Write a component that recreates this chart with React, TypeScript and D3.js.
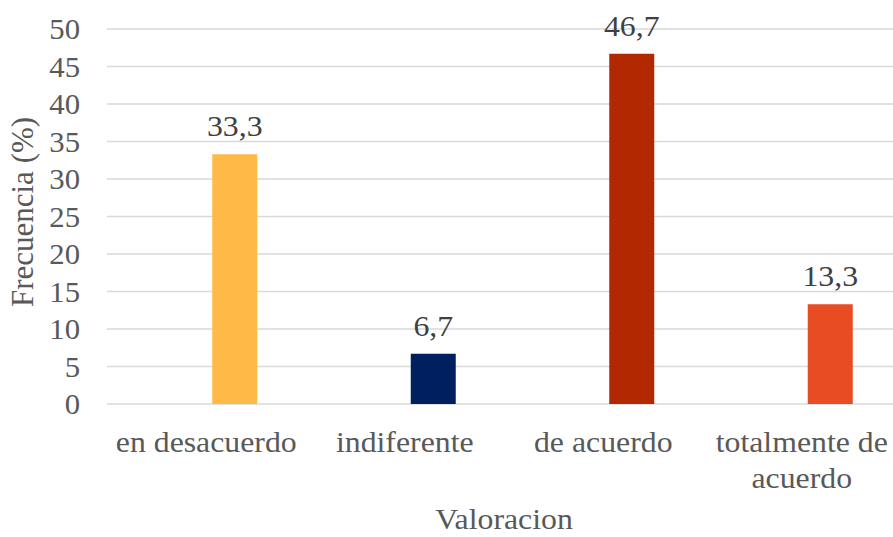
import React from "react";
import * as d3 from "d3";

const categoryKeys = ["en desacuerdo", "indiferente", "de acuerdo", "totalmente de acuerdo"];
const categoryLines: string[][] = [["en desacuerdo"], ["indiferente"], ["de acuerdo"], ["totalmente de", "acuerdo"]];
const values = [33.3, 6.7, 46.7, 13.3];
const valueLabels = ["33,3", "6,7", "46,7", "13,3"];
const colors = ["#FFB946", "#001F5F", "#B22800", "#E84C22"];
const yTicks = [0, 5, 10, 15, 20, 25, 30, 35, 40, 45, 50];

const W = 893;
const H = 537;
const FONT = "Liberation Serif";
const SX = 1.06;

function T(props: { x: number; y: number; size: number; fill: string; anchor: string; children: React.ReactNode }) {
  return (
    <g transform={`translate(${props.x},${props.y}) scale(${SX},1)`}>
      <text
        x={0}
        y={0}
        textAnchor={props.anchor}
        fontFamily={FONT}
        style={{ fontFamily: FONT }}
        fontSize={props.size}
        fill={props.fill}
      >
        {props.children}
      </text>
    </g>
  );
}

export default function App() {
  const y = d3.scaleLinear().domain([0, 50]).range([404, 29]);
  const x = d3.scaleBand<string>().domain(categoryKeys).range([107, 901]);
  const barW = 45;
  const barOffset = 28.5;
  const gridX0 = 107;
  const gridX1 = 893;

  return (
    <svg
      width={W}
      height={H}
      fontFamily={FONT}
      style={{ position: "absolute", left: 0, top: 0, background: "#fff", fontFamily: FONT }}
    >
      {yTicks.map((t) => (
        <g key={t}>
          <line x1={gridX0} x2={gridX1} y1={y(t)} y2={y(t)} stroke="#D9D9D9" strokeWidth={1.5} />
          <T x={80} y={y(t) + 10} size={29} fill="#595959" anchor="end">
            {String(t)}
          </T>
        </g>
      ))}
      {categoryKeys.map((c, i) => {
        const bc = (x(c) as number) + x.bandwidth() / 2;
        const cx = bc + barOffset;
        return (
          <g key={c}>
            <rect x={cx - barW / 2} y={y(values[i])} width={barW} height={y(0) - y(values[i])} fill={colors[i]} />
            <T x={cx} y={y(values[i]) - 18} size={30} fill="#404040" anchor="middle">
              {valueLabels[i]}
            </T>
            {categoryLines[i].map((line, j) => (
              <T key={j} x={bc} y={452 + j * 36} size={30} fill="#595959" anchor="middle">
                {line}
              </T>
            ))}
          </g>
        );
      })}
      <T x={(107 + 901) / 2} y={529} size={30} fill="#595959" anchor="middle">
        Valoracion
      </T>
      <text
        transform={`translate(33, 212) rotate(-90)`}
        textAnchor="middle"
        fontFamily={FONT}
        style={{ fontFamily: FONT }}
        fontSize={31}
        fill="#595959"
      >
        Frecuencia (%)
      </text>
    </svg>
  );
}
